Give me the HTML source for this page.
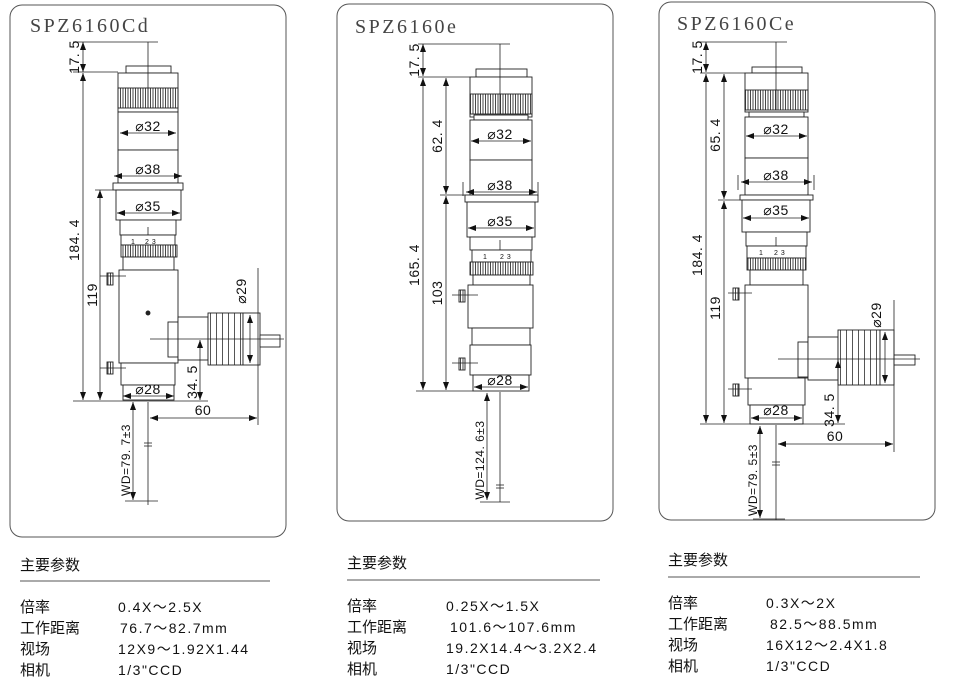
<!DOCTYPE html>
<html><head><meta charset="utf-8"><style>
html,body{margin:0;padding:0;background:#fff;}
svg{display:block;}
.t{font-family:"Liberation Serif",serif;font-size:20px;letter-spacing:2.5px;fill:#444;}
.d{font-family:"Liberation Sans",sans-serif;font-size:14px;fill:#111;letter-spacing:0.5px;}
.c{font-family:"Liberation Sans","Noto Sans CJK SC",sans-serif;font-size:15px;fill:#111;}
.v{font-family:"Liberation Sans",sans-serif;font-size:14px;fill:#111;letter-spacing:1.5px;}
</style></head><body>
<svg width="955" height="697" viewBox="0 0 955 697" xmlns="http://www.w3.org/2000/svg">
<defs>
<marker id="a" markerWidth="8" markerHeight="6" refX="8" refY="3" orient="auto-start-reverse" markerUnits="userSpaceOnUse"><path d="M0,0 L8,3 L0,6z" fill="#111"/></marker>
<pattern id="k" width="2.5" height="10" patternUnits="userSpaceOnUse"><rect width="2.5" height="10" fill="#fff"/><line x1="0.5" y1="0" x2="0.5" y2="10" stroke="#333" stroke-width="0.9"/></pattern>
<pattern id="f" width="6" height="10" patternUnits="userSpaceOnUse"><rect width="6" height="10" fill="#fff"/><line x1="0.5" y1="0" x2="0.5" y2="10" stroke="#444" stroke-width="0.9"/></pattern>
</defs>
<g fill="none" stroke="#555" stroke-width="1">
<rect x="10" y="5" width="276" height="532" rx="12"/>
<rect x="337" y="4" width="276" height="517" rx="12"/>
<rect x="659" y="2" width="276" height="518" rx="12"/>
</g>
<text class="t" x="30" y="32">SPZ6160Cd</text>
<text class="t" x="355" y="33">SPZ6160e</text>
<text class="t" x="677" y="30">SPZ6160Ce</text>

<!-- PANEL 1 -->
<g stroke="#222" stroke-width="0.9" fill="#fff">
<rect x="126" y="66" width="45" height="7"/>
<rect x="118" y="73" width="60" height="39"/>
<rect x="118" y="88" width="60" height="20" fill="url(#k)"/>
<rect x="118" y="112" width="60" height="38"/>
<rect x="118" y="150" width="60" height="33"/>
<rect x="113" y="183" width="70" height="7"/>
<rect x="116" y="190" width="65" height="30"/>
<rect x="120" y="220" width="56" height="15"/>
<rect x="121" y="235" width="54" height="10"/>
<rect x="121" y="245" width="56" height="12" fill="url(#k)"/>
<rect x="123" y="257" width="51" height="13"/>
<rect x="119" y="270" width="59" height="93"/>
<rect x="121" y="363" width="54" height="22"/>
<rect x="123" y="385" width="51" height="15"/>
<rect x="107" y="273" width="6" height="12" fill="url(#k)"/>
<rect x="107" y="362" width="6" height="12" fill="url(#k)"/>
<rect x="168" y="322" width="10" height="35"/>
<rect x="178" y="317" width="30" height="43"/>
<rect x="208" y="313" width="35" height="52" fill="url(#f)"/>
<rect x="243" y="313" width="17" height="52"/>
<rect x="260" y="335" width="20" height="12"/>
<circle cx="148" cy="313" r="2" fill="#222"/>
</g>
<g stroke="#222" stroke-width="0.8" fill="none">
<line x1="148" y1="42" x2="148" y2="108"/>
<line x1="73" y1="42" x2="158" y2="42"/><line x1="73" y1="72" x2="118" y2="72"/>
<line x1="73" y1="401" x2="178" y2="401"/><line x1="95" y1="190" x2="113" y2="190"/>
<line x1="83" y1="42" x2="83" y2="72" marker-start="url(#a)" marker-end="url(#a)"/>
<line x1="83" y1="73" x2="83" y2="400" marker-start="url(#a)" marker-end="url(#a)"/>
<line x1="100" y1="190" x2="100" y2="400" marker-start="url(#a)" marker-end="url(#a)"/>
<line x1="120" y1="133" x2="176" y2="133" marker-start="url(#a)" marker-end="url(#a)"/>
<line x1="114" y1="176" x2="182" y2="176" marker-start="url(#a)" marker-end="url(#a)"/>
<line x1="117" y1="213" x2="180" y2="213" marker-start="url(#a)" marker-end="url(#a)"/>
<line x1="123" y1="396" x2="174" y2="396" marker-start="url(#a)" marker-end="url(#a)"/>
<line x1="150" y1="339" x2="284" y2="339"/>
<line x1="200" y1="340" x2="200" y2="400" marker-start="url(#a)" marker-end="url(#a)"/>
<line x1="178" y1="401" x2="208" y2="401"/>
<line x1="258" y1="268" x2="258" y2="425"/>
<line x1="250" y1="315" x2="250" y2="363" marker-start="url(#a)" marker-end="url(#a)"/>
<line x1="150" y1="418" x2="257" y2="418" marker-start="url(#a)" marker-end="url(#a)"/>
<line x1="148" y1="402" x2="148" y2="505"/><line x1="144" y1="443" x2="152" y2="443"/><line x1="144" y1="446" x2="152" y2="446"/>
<line x1="133" y1="402" x2="133" y2="500" marker-start="url(#a)" marker-end="url(#a)"/>
<line x1="125" y1="501" x2="158" y2="501"/>
<line x1="148" y1="227" x2="148" y2="235"/>
<line x1="100" y1="276" x2="126" y2="276"/><line x1="100" y1="368" x2="126" y2="368"/>
</g>
<g class="d">
<text x="148" y="131" text-anchor="middle">⌀32</text>
<text x="148" y="174" text-anchor="middle">⌀38</text>
<text x="148" y="211" text-anchor="middle">⌀35</text>
<text x="148" y="394" text-anchor="middle">⌀28</text>
<text x="131" y="244" font-size="7">1</text><text x="145" y="244" font-size="7">2 3</text>
<text transform="translate(79,57) rotate(-90)" text-anchor="middle">17. 5</text>
<text transform="translate(79,240) rotate(-90)" text-anchor="middle">184. 4</text>
<text transform="translate(97,295) rotate(-90)" text-anchor="middle">119</text>
<text transform="translate(197,382) rotate(-90)" text-anchor="middle">34. 5</text>
<text transform="translate(246,291) rotate(-90)" text-anchor="middle">⌀29</text>
<text x="203" y="415" text-anchor="middle">60</text>
<text transform="translate(130,460) rotate(-90)" text-anchor="middle" font-size="12">WD=79. 7±3</text>
</g>

<!-- PANEL 2 -->
<g stroke="#222" stroke-width="0.9" fill="#fff">
<rect x="476" y="69" width="51" height="8"/>
<rect x="470" y="77" width="62" height="40"/>
<rect x="470" y="94" width="62" height="20" fill="url(#k)"/>
<rect x="474" y="115" width="54" height="5"/>
<rect x="470" y="120" width="62" height="40"/>
<rect x="470" y="160" width="62" height="35"/>
<rect x="465" y="195" width="73" height="7"/>
<rect x="467" y="202" width="68" height="35"/>
<rect x="470" y="237" width="62" height="13"/>
<rect x="472" y="250" width="59" height="12"/>
<rect x="470" y="262" width="63" height="13" fill="url(#k)"/>
<rect x="473" y="275" width="57" height="10"/>
<rect x="468" y="285" width="65" height="43"/>
<rect x="472" y="328" width="58" height="17"/>
<rect x="470" y="345" width="61" height="30"/>
<rect x="473" y="375" width="56" height="16"/>
<rect x="459" y="290" width="6" height="12" fill="url(#k)"/>
<rect x="459" y="358" width="6" height="12" fill="url(#k)"/>
</g>
<g stroke="#222" stroke-width="0.8" fill="none">
<line x1="500" y1="44" x2="500" y2="114"/>
<line x1="418" y1="44" x2="510" y2="44"/><line x1="418" y1="77" x2="470" y2="77"/>
<line x1="416" y1="391" x2="473" y2="391"/><line x1="440" y1="195" x2="465" y2="195"/>
<line x1="423" y1="44" x2="423" y2="76" marker-start="url(#a)" marker-end="url(#a)"/>
<line x1="423" y1="78" x2="423" y2="390" marker-start="url(#a)" marker-end="url(#a)"/>
<line x1="446" y1="78" x2="446" y2="194" marker-start="url(#a)" marker-end="url(#a)"/>
<line x1="446" y1="196" x2="446" y2="390" marker-start="url(#a)" marker-end="url(#a)"/>
<line x1="471" y1="141" x2="531" y2="141" marker-start="url(#a)" marker-end="url(#a)"/>
<line x1="466" y1="192" x2="537" y2="192" marker-start="url(#a)" marker-end="url(#a)"/>
<line x1="468" y1="228" x2="534" y2="228" marker-start="url(#a)" marker-end="url(#a)"/>
<line x1="474" y1="387" x2="528" y2="387" marker-start="url(#a)" marker-end="url(#a)"/>
<line x1="463" y1="182" x2="463" y2="196"/><line x1="538" y1="182" x2="538" y2="196"/>
<line x1="500" y1="240" x2="500" y2="250"/>
<line x1="452" y1="295" x2="478" y2="295"/><line x1="452" y1="363" x2="478" y2="363"/>
<line x1="500" y1="392" x2="500" y2="502"/><line x1="496" y1="485" x2="504" y2="485"/><line x1="496" y1="488" x2="504" y2="488"/>
<line x1="487" y1="393" x2="487" y2="500" marker-start="url(#a)" marker-end="url(#a)"/>
<line x1="480" y1="502" x2="510" y2="502"/>
</g>
<g class="d">
<text x="500" y="139" text-anchor="middle">⌀32</text>
<text x="500" y="190" text-anchor="middle">⌀38</text>
<text x="500" y="226" text-anchor="middle">⌀35</text>
<text x="500" y="385" text-anchor="middle">⌀28</text>
<text x="483" y="259" font-size="7">1</text><text x="500" y="259" font-size="7">2 3</text>
<text transform="translate(419,60) rotate(-90)" text-anchor="middle">17. 5</text>
<text transform="translate(419,265) rotate(-90)" text-anchor="middle">165. 4</text>
<text transform="translate(442,136) rotate(-90)" text-anchor="middle">62. 4</text>
<text transform="translate(442,293) rotate(-90)" text-anchor="middle">103</text>
<text transform="translate(484,460) rotate(-90)" text-anchor="middle" font-size="12">WD=124. 6±3</text>
</g>

<!-- PANEL 3 -->
<g stroke="#222" stroke-width="0.9" fill="#fff">
<rect x="752" y="67" width="50" height="6"/>
<rect x="745" y="73" width="63" height="39"/>
<rect x="745" y="90" width="63" height="20" fill="url(#k)"/>
<rect x="749" y="112" width="55" height="5"/>
<rect x="745" y="117" width="63" height="41"/>
<rect x="745" y="158" width="63" height="37"/>
<rect x="740" y="195" width="73" height="5"/>
<rect x="742" y="200" width="68" height="32"/>
<rect x="746" y="232" width="61" height="14"/>
<rect x="747" y="246" width="59" height="12"/>
<rect x="747" y="258" width="59" height="12" fill="url(#k)"/>
<rect x="750" y="270" width="53" height="15"/>
<rect x="745" y="285" width="63" height="93"/>
<rect x="748" y="378" width="57" height="27"/>
<rect x="750" y="405" width="53" height="19"/>
<rect x="733" y="288" width="6" height="12" fill="url(#k)"/>
<rect x="733" y="384" width="6" height="12" fill="url(#k)"/>
<rect x="798" y="342" width="10" height="35"/>
<rect x="808" y="337" width="30" height="43"/>
<rect x="838" y="330" width="42" height="55" fill="url(#f)"/>
<rect x="880" y="330" width="14" height="55"/>
<rect x="894" y="355" width="21" height="10"/>
</g>
<g stroke="#222" stroke-width="0.8" fill="none">
<line x1="776" y1="42" x2="776" y2="110"/>
<line x1="700" y1="42" x2="787" y2="42"/><line x1="700" y1="73" x2="745" y2="73"/>
<line x1="700" y1="424" x2="845" y2="424"/><line x1="718" y1="200" x2="740" y2="200"/>
<line x1="706" y1="42" x2="706" y2="72" marker-start="url(#a)" marker-end="url(#a)"/>
<line x1="706" y1="74" x2="706" y2="423" marker-start="url(#a)" marker-end="url(#a)"/>
<line x1="724" y1="74" x2="724" y2="199" marker-start="url(#a)" marker-end="url(#a)"/>
<line x1="724" y1="201" x2="724" y2="423" marker-start="url(#a)" marker-end="url(#a)"/>
<line x1="746" y1="136" x2="807" y2="136" marker-start="url(#a)" marker-end="url(#a)"/>
<line x1="741" y1="182" x2="812" y2="182" marker-start="url(#a)" marker-end="url(#a)"/>
<line x1="743" y1="218" x2="809" y2="218" marker-start="url(#a)" marker-end="url(#a)"/>
<line x1="751" y1="418" x2="802" y2="418" marker-start="url(#a)" marker-end="url(#a)"/>
<line x1="738" y1="175" x2="738" y2="190"/><line x1="814" y1="175" x2="814" y2="190"/>
<line x1="776" y1="237" x2="776" y2="246"/>
<line x1="728" y1="293" x2="752" y2="293"/><line x1="728" y1="389" x2="752" y2="389"/>
<line x1="778" y1="359" x2="920" y2="359"/>
<line x1="838" y1="360" x2="838" y2="423" marker-start="url(#a)" marker-end="url(#a)"/>
<line x1="894" y1="300" x2="894" y2="452"/>
<line x1="885" y1="332" x2="885" y2="383" marker-start="url(#a)" marker-end="url(#a)"/>
<line x1="778" y1="444" x2="893" y2="444" marker-start="url(#a)" marker-end="url(#a)"/>
<line x1="776" y1="425" x2="776" y2="520"/><line x1="772" y1="462" x2="780" y2="462"/><line x1="772" y1="465" x2="780" y2="465"/>
<line x1="760" y1="426" x2="760" y2="518" marker-start="url(#a)" marker-end="url(#a)"/>
<line x1="753" y1="519" x2="785" y2="519"/>
</g>
<g class="d">
<text x="776" y="134" text-anchor="middle">⌀32</text>
<text x="776" y="180" text-anchor="middle">⌀38</text>
<text x="776" y="215" text-anchor="middle">⌀35</text>
<text x="776" y="415" text-anchor="middle">⌀28</text>
<text x="759" y="255" font-size="7">1</text><text x="774" y="255" font-size="7">2 3</text>
<text transform="translate(702,57) rotate(-90)" text-anchor="middle">17. 5</text>
<text transform="translate(702,255) rotate(-90)" text-anchor="middle">184. 4</text>
<text transform="translate(720,135) rotate(-90)" text-anchor="middle">65. 4</text>
<text transform="translate(720,308) rotate(-90)" text-anchor="middle">119</text>
<text transform="translate(834,410) rotate(-90)" text-anchor="middle">34. 5</text>
<text transform="translate(881,315) rotate(-90)" text-anchor="middle">⌀29</text>
<text x="835" y="441" text-anchor="middle">60</text>
<text transform="translate(757,480) rotate(-90)" text-anchor="middle" font-size="12">WD=79. 5±3</text>
</g>

<!-- Parameters -->
<g stroke="#777" stroke-width="1.2">
<line x1="20" y1="581" x2="270" y2="581"/>
<line x1="347" y1="580" x2="600" y2="580"/>
<line x1="668" y1="577" x2="920" y2="577"/>
</g>
<g class="c">
<text x="20" y="570">主要参数</text>
<text x="20" y="612">倍率</text><text x="20" y="633">工作距离</text><text x="20" y="654">视场</text><text x="20" y="675">相机</text>
<text x="347" y="568">主要参数</text>
<text x="347" y="611">倍率</text><text x="347" y="632">工作距离</text><text x="347" y="653">视场</text><text x="347" y="674">相机</text>
<text x="668" y="565">主要参数</text>
<text x="668" y="608">倍率</text><text x="668" y="629">工作距离</text><text x="668" y="650">视场</text><text x="668" y="671">相机</text>
</g>
<g class="v">
<text x="118" y="612">0.4X～2.5X</text><text x="120" y="633">76.7～82.7mm</text><text x="118" y="654">12X9～1.92X1.44</text><text x="118" y="675">1/3"CCD</text>
<text x="446" y="611">0.25X～1.5X</text><text x="450" y="632">101.6～107.6mm</text><text x="446" y="653">19.2X14.4～3.2X2.4</text><text x="446" y="674">1/3"CCD</text>
<text x="766" y="608">0.3X～2X</text><text x="770" y="629">82.5～88.5mm</text><text x="766" y="650">16X12～2.4X1.8</text><text x="766" y="671">1/3"CCD</text>
</g>
</svg>
</body></html>
